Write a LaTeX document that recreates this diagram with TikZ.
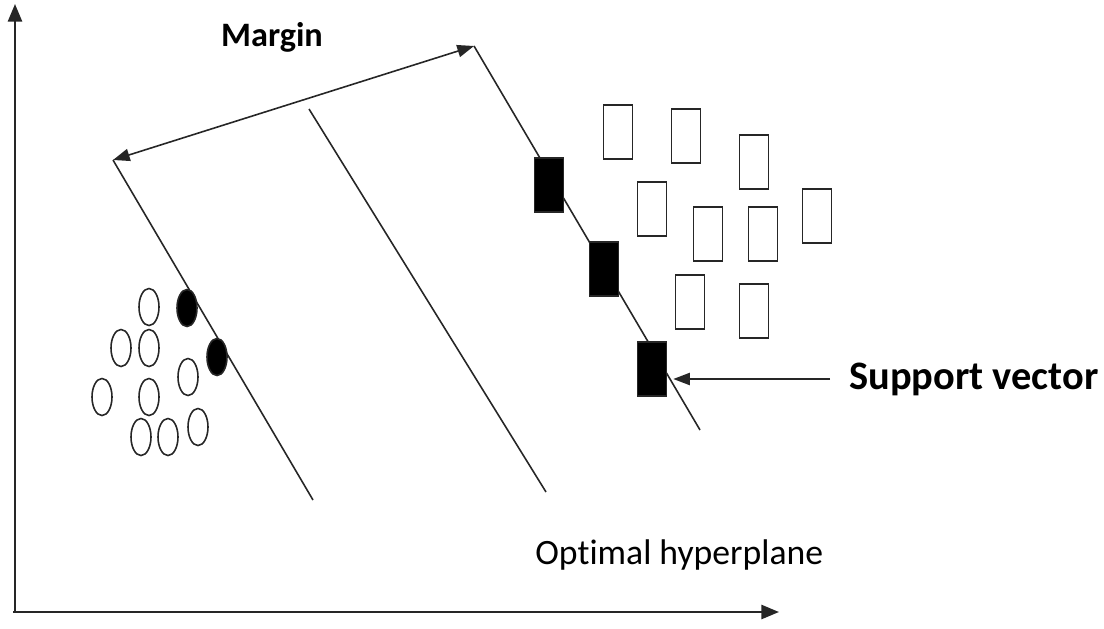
\documentclass[tikz,border=0pt]{standalone}
\usepackage{fontspec}
\setmainfont{Carlito}[Ligatures=NoCommon]
\usetikzlibrary{arrows.meta,shapes.geometric}
\begin{document}
\begin{tikzpicture}[x=0.02cm,y=-0.02cm,
  thinline/.style={line width=0.9pt,draw=black!85},
  axisline/.style={line width=1.3pt,draw=black!85,-{Triangle[length=10pt,width=8pt]}},
  arr/.style={line width=0.9pt,draw=black!85,-{Triangle[length=9.5pt,width=7pt]}},
  pt/.style={ellipse,draw=black!85,line width=0.9pt,minimum width=0.4cm,minimum height=0.74cm,inner sep=0pt},
  ptf/.style={pt,fill=black},
  bx/.style={rectangle,draw=black!85,line width=0.9pt,minimum width=0.58cm,minimum height=1.08cm,inner sep=0pt},
  bxf/.style={bx,fill=black},
  lbl/.style={inner sep=0pt,text=black}]
\useasboundingbox (0,0) rectangle (1104,628);
% axes
\coordinate (O) at (15,612);
\coordinate (Y) at (15,4);
\coordinate (X) at (779,612);
\draw[axisline] (O) -- (Y);
\draw[axisline] ([xshift=-0.04cm]O) -- (X);
% margin lines
\coordinate (mL1) at (113,160);
\coordinate (mL2) at (313,500);
\coordinate (mR1) at (474,46);
\coordinate (mR2) at (700,430);
\coordinate (h1) at (309,109);
\coordinate (h2) at (546,492);
\draw[thinline] (mL1) -- (mL2);
\draw[thinline] (mR1) -- (mR2);
\draw[thinline] (h1) -- (h2);
\draw[arr,{Triangle[length=9.5pt,width=7pt]}-{Triangle[length=9.5pt,width=7pt]}] (mL1) -- (mR1);
% circles
\node[pt] (c1) at (149,307) {};
\node[pt] (c2) at (121,348) {};
\node[pt] (c3) at (149,348) {};
\node[pt] (c4) at (188,377) {};
\node[pt] (c5) at (102,397) {};
\node[pt] (c6) at (149,397) {};
\node[pt] (c7) at (141,437) {};
\node[pt] (c8) at (168,437) {};
\node[pt] (c9) at (198,427) {};
\node[ptf] (cf1) at (187,308) {};
\node[ptf] (cf2) at (217,357) {};
% rectangles
\node[bx] (r1) at (618,132) {};
\node[bx] (r2) at (686,136) {};
\node[bx] (r3) at (754,162) {};
\node[bx] (r4) at (652,209) {};
\node[bx] (r5) at (708,234) {};
\node[bx] (r6) at (763,234) {};
\node[bx] (r7) at (817,216) {};
\node[bx] (r8) at (690,302) {};
\node[bx] (r9) at (754,311) {};
\node[bxf] (s1) at (549,185) {};
\node[bxf] (s2) at (604,269) {};
\node[bxf] (s3) at (652,369) {};
% labels
\node[lbl,font=\bfseries\fontsize{19.5}{22}\selectfont] (margin) at (272,37) {Margin};
\node[lbl,font=\bfseries\fontsize{23}{26}\selectfont,anchor=west] (sv) at (849,379) {Support vector};
\node[lbl,font=\fontsize{20.3}{23}\selectfont,anchor=west] (opt) at (535,555) {Optimal hyperplane};
\draw[arr,shorten <=0.38cm,shorten >=0.12cm] (sv.west) -- (sv.west -| s3.east);
\end{tikzpicture}
\end{document}
